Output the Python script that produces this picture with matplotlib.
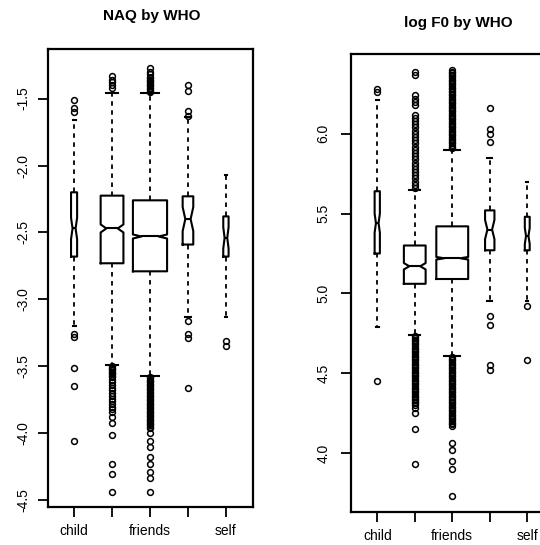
import matplotlib
matplotlib.use("Agg")
import matplotlib.pyplot as plt

plt.rcParams['font.family'] = ['Liberation Sans', 'DejaVu Sans']

# ---------------- data ----------------
tick_labels = ["child", "", "friends", "", "self"]
positions = [1, 2, 3, 4, 5]

# NAQ by WHO
naq_whishi = [-1.66, -1.46, -1.46, -1.64, -2.07]
naq_q3 = [-2.20, -2.225, -2.26, -2.23, -2.38]
naq_med = [-2.47, -2.47, -2.53, -2.40, -2.54]
naq_q1 = [-2.68, -2.73, -2.79, -2.59, -2.68]
naq_whislo = [-3.20, -3.49, -3.57, -3.13, -3.13]
naq_notch = [0.08, 0.03, 0.015, 0.09, 0.08]
naq_width = [0.16, 0.60, 0.90, 0.28, 0.14]
naq_fliers = [
    [-1.51, -1.57, -1.60, -3.26, -3.28, -3.51, -3.65, -4.06],
    [-1.33, -1.36, -1.38, -1.40, -1.42,
     -3.50, -3.51, -3.52, -3.53, -3.54, -3.55, -3.56, -3.57, -3.58, -3.60,
     -3.62, -3.64, -3.66, -3.68, -3.70, -3.72, -3.74, -3.76, -3.78, -3.80,
     -3.82, -3.84, -3.88, -3.92, -4.01, -4.23, -4.30, -4.44],
    [-1.27, -1.30, -1.32, -1.34, -1.35, -1.36, -1.37, -1.38, -1.39, -1.40,
     -1.41, -1.42, -1.43, -1.44, -1.45,
     -3.58, -3.59, -3.60, -3.61, -3.62, -3.63, -3.64, -3.65, -3.66, -3.67,
     -3.68, -3.69, -3.70, -3.71, -3.72, -3.73, -3.74, -3.75, -3.76, -3.77,
     -3.78, -3.79, -3.80, -3.81, -3.82, -3.83, -3.84, -3.85, -3.86, -3.87,
     -3.88, -3.89, -3.90, -3.91, -3.92, -3.93, -3.94, -3.95, -3.96,
     -4.00, -4.06, -4.10, -4.18, -4.23, -4.29, -4.33, -4.44],
    [-1.40, -1.44, -1.59, -1.63, -3.16, -3.26, -3.29, -3.66],
    [-3.31, -3.35],
]

# log F0 by WHO
f0_whishi = [6.21, 5.65, 5.90, 5.85, 5.70]
f0_q3 = [5.64, 5.30, 5.42, 5.52, 5.48]
f0_med = [5.44, 5.17, 5.22, 5.40, 5.36]
f0_q1 = [5.25, 5.06, 5.09, 5.27, 5.27]
f0_whislo = [4.79, 4.74, 4.61, 4.95, 4.95]
f0_notch = [0.06, 0.02, 0.008, 0.06, 0.05]
f0_width = [0.14, 0.58, 0.85, 0.25, 0.13]
f0_fliers = [
    [6.26, 6.28, 4.45],
    [6.39, 6.37, 6.24, 6.22, 6.20, 6.18, 6.12, 6.10, 6.08, 6.06, 6.04, 6.02,
     6.00, 5.98, 5.96, 5.94, 5.92, 5.90, 5.88, 5.86, 5.84, 5.82, 5.80, 5.78,
     5.76, 5.74, 5.72, 5.70, 5.68, 5.66,
     4.73, 4.72, 4.71, 4.70, 4.69, 4.68, 4.67, 4.66, 4.65, 4.64, 4.63, 4.62,
     4.61, 4.60, 4.59, 4.58, 4.57, 4.56, 4.55, 4.54, 4.53, 4.52, 4.51, 4.50,
     4.49, 4.48, 4.47, 4.46, 4.45, 4.44, 4.43, 4.42, 4.41, 4.40, 4.39, 4.38,
     4.37, 4.36, 4.35, 4.34, 4.33, 4.32, 4.31, 4.30, 4.28, 4.25, 4.15, 3.93],
    [6.40, 6.39, 6.38, 6.37, 6.36, 6.35, 6.34, 6.33, 6.32, 6.31, 6.30, 6.29,
     6.28, 6.27, 6.26, 6.25, 6.24, 6.23, 6.22, 6.21, 6.20, 6.19, 6.18, 6.17,
     6.16, 6.15, 6.14, 6.13, 6.12, 6.11, 6.10, 6.09, 6.08, 6.07, 6.06, 6.05,
     6.04, 6.03, 6.02, 6.01, 6.00, 5.99, 5.98, 5.97, 5.96, 5.95, 5.94, 5.93,
     5.92, 5.91,
     4.60, 4.59, 4.58, 4.57, 4.56, 4.55, 4.54, 4.53, 4.52, 4.51, 4.50, 4.49,
     4.48, 4.47, 4.46, 4.45, 4.44, 4.43, 4.42, 4.41, 4.40, 4.39, 4.38, 4.37,
     4.36, 4.35, 4.34, 4.33, 4.32, 4.31, 4.30, 4.29, 4.28, 4.27, 4.26, 4.25,
     4.24, 4.23, 4.22, 4.21, 4.20, 4.19, 4.18, 4.17,
     4.06, 4.02, 3.95, 3.90, 3.73],
    [6.16, 6.03, 6.00, 5.95, 4.86, 4.80, 4.55, 4.52],
    [4.92, 4.58],
]

naq_yticks = [-4.5, -4.0, -3.5, -3.0, -2.5, -2.0, -1.5]
f0_yticks = [4.0, 4.5, 5.0, 5.5, 6.0]


def make_stats(whishi, q3, med, q1, whislo, notch, fliers):
    stats = []
    for i in range(len(med)):
        stats.append(dict(med=med[i], q1=q1[i], q3=q3[i],
                          whislo=whislo[i], whishi=whishi[i],
                          cilo=med[i] - notch[i], cihi=med[i] + notch[i],
                          fliers=fliers[i]))
    return stats


fig = plt.figure(figsize=(5.4, 5.45), dpi=100)
ax1 = fig.add_axes([47.5 / 540, 1 - 507 / 545, 205 / 540, 458 / 545])
ax2 = fig.add_axes([351 / 540, 1 - 512 / 545, 202.5 / 540, 458 / 545])

common = dict(
    shownotches=True,
    patch_artist=False,
    boxprops=dict(color='black', linewidth=1.5),
    medianprops=dict(color='black', linewidth=1.5),
    whiskerprops=dict(color='black', linewidth=1.3, linestyle=(0, (2.5, 2.5))),
    capprops=dict(color='black', linewidth=1.5),
    flierprops=dict(marker='o', markerfacecolor='none', markeredgecolor='black',
                    markersize=4.2, markeredgewidth=1.1, linestyle='none'),
)

ax1.bxp(make_stats(naq_whishi, naq_q3, naq_med, naq_q1, naq_whislo, naq_notch, naq_fliers),
        positions=positions, widths=naq_width, **common)
ax2.bxp(make_stats(f0_whishi, f0_q3, f0_med, f0_q1, f0_whislo, f0_notch, f0_fliers),
        positions=positions, widths=f0_width, **common)

ax1.set_ylim(-4.55, -1.13)
ax2.set_ylim(3.63, 6.50)
ax1.set_yticks(naq_yticks)
ax1.set_yticklabels([f"{v:.1f}" for v in naq_yticks])
ax2.set_yticks(f0_yticks)
ax2.set_yticklabels([f"{v:.1f}" for v in f0_yticks])

for ax, ypad in ((ax1, 5), (ax2, 8)):
    ax.set_xlim(0.3, 5.7)
    ax.set_xticks(positions)
    ax.set_xticklabels(tick_labels)
    ax.tick_params(axis='both', direction='out', length=7, width=1.3, labelsize=10)
    ax.tick_params(axis='x', pad=5)
    ax.tick_params(axis='y', pad=ypad)
    for lab in ax.get_yticklabels():
        lab.set_rotation(90)
        lab.set_va('center')
    for sp in ax.spines.values():
        sp.set_linewidth(1.6)
        sp.set_color('black')

fig.text(152 / 540, 1 - 16 / 545, "NAQ by WHO", ha='center', va='center',
         fontsize=11, fontweight='bold')
fig.text(458 / 540, 1 - 23 / 545, "log F0 by WHO", ha='center', va='center',
         fontsize=11, fontweight='bold')

fig.savefig("out.png", dpi=100)
